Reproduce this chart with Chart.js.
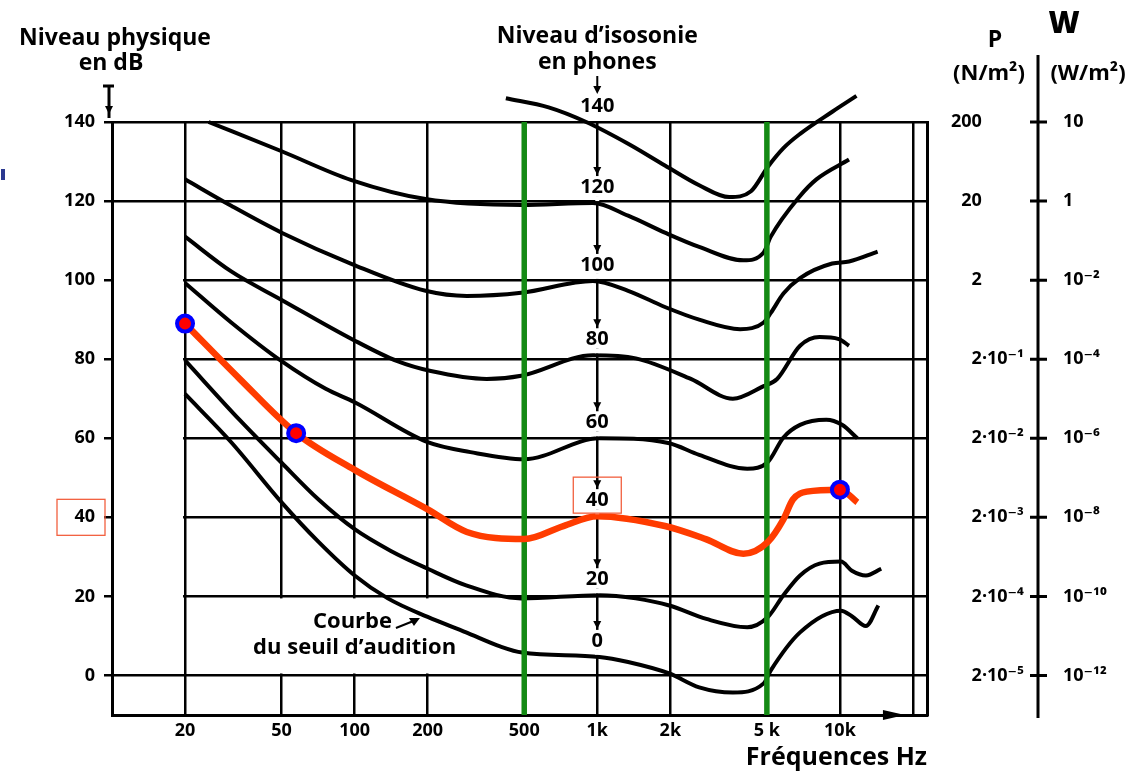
<!DOCTYPE html>
<html>
<head>
<meta charset="utf-8">
<script src="https://cdn.jsdelivr.net/npm/chart.js@4/dist/chart.umd.min.js"></script>
<style>
  html, body { margin: 0; padding: 0; background: #fff; }
</style>
</head>
<body>
<canvas id="chart" width="1138" height="773"></canvas>
<script>
// equal loudness contours, [frequency Hz, level dB]
const c140 = [[420,146],[630,143.7],[900,140],[1340,134.5],[1900,129],[2630,124],[3500,121],[4300,122.5],[5050,128.7],[5850,133.4],[6850,137],[9300,142.6],[11700,146.6]]
const c120 = [[25,140],[50,132.6],[97,125.3],[196,120.5],[486,119],[960,119.5],[1340,116.3],[1900,112],[2630,108.4],[4000,105],[4850,107],[5190,111],[6850,121.3],[8000,125.5],[10900,130.5]]
const c100 = [[20,125.5],[31,118.8],[50,112],[98,104],[196,97.3],[290,96],[486,96.8],[960,99.8],[1340,97.3],[1900,93.2],[2630,90],[3880,87.6],[4850,89.3],[5190,91.7],[5850,96.6],[6850,100.5],[9290,104.2],[10900,104.7],[14300,107.2]]
const c80 = [[20,111],[31,102.2],[50,95],[98,85],[150,79.5],[206,77],[350,75],[486,75.8],[960,81],[1440,80.2],[2430,75],[3620,70],[4850,73.2],[5510,75],[6850,83.4],[8240,85.6],[9900,85.1],[10900,83.4]]
const c60 = [[20,99.3],[31,89.3],[50,79.5],[76,72.5],[100,69.1],[200,59],[300,56.5],[500,54.7],[1020,60],[1960,58.8],[2630,55.8],[4150,52.3],[5050,54],[5850,60.2],[6850,63.4],[8790,64.7],[10200,63.4],[11800,60]]
const c40 = [[20,89],[33.5,75.1],[57.4,61.3],[100,52],[200,42],[290,36.3],[500,34.5],[725,37.8],[1000,40.3],[1900,37.8],[2800,34.5],[4000,30.8],[5050,33.8],[5850,39.5],[6400,44.5],[7300,46.5],[10000,47],[11800,43.8]]
const c20 = [[20,79.7],[33.5,64.7],[50,53.8],[71,44.5],[100,37],[141,31.5],[200,27],[288,22.8],[486,19.5],[1020,20.3],[1440,19.5],[1980,17.7],[2815,14.3],[4150,12.2],[5050,14.8],[5850,20.3],[6850,25.3],[8240,28.3],[10100,28.8],[11200,26.5],[12800,25.3],[14800,27]]
const c0 = [[20,71.2],[31,59],[50,43.8],[71,33.8],[100,25.3],[137,19.5],[200,14.8],[288,10.9],[400,7.3],[490,5.8],[1020,4.7],[1340,3.4],[1980,0.5],[2630,-3],[3620,-4.3],[4850,-2],[5190,1.3],[6850,10.9],[10100,16.4],[11200,15],[12800,12.5],[14400,17.7]]

const redMarks = [[20,89],[57.4,61.3],[10000,47]]
const greenHz = [500, 5000]

const phons = [140, 120, 100, 80, 60, 40, 20, 0]
const phonCurves = [c140, c120, c100, c80, c60, c40, c20, c0]

const freqTicks = [10, 20, 50, 100, 200, 500, 1000, 2000, 5000, 10000, 20000]
const freqLabels = ['', '20', '50', '100', '200', '500', '1k', '2k', '5 k', '10k', '']
const dbTicks = [0, 20, 40, 60, 80, 100, 120, 140]
// figure spaces keep the leading "2" of each pressure label in one column
const pLabels = ['\u2007\u20072·10⁻⁵', '\u2007\u20072·10⁻⁴', '\u2007\u20072·10⁻³', '\u2007\u20072·10⁻²', '\u2007\u20072·10⁻¹', '\u2007\u20072', '\u200720', '200']
const wLabels = ['10⁻¹²', '10⁻¹⁰', '10⁻⁸', '10⁻⁶', '10⁻⁴', '10⁻²', '1', '10']

const dbMin = -10, dbMax = 140
const hzMin = 10, hzMax = 22850
const ink = '#000'
const fam = '"Open Sans", "DejaVu Sans", sans-serif'

const toXY = c => c.map(([x, y]) => ({x, y}))
const at1k = c => c.reduce((b, p) => Math.abs(Math.log(p[0] / 1000)) < Math.abs(Math.log(b[0] / 1000)) ? p : b)[1]

function blank(ctx, x0, y0, x1, y1) {
    ctx.fillRect(x0 + 2, y0 + 2, x1 - x0 - 4, y1 - y0 - 4)
}

function arrowDown(ctx, x, y) {
    ctx.beginPath()
    ctx.moveTo(x - 4, y - 8)
    ctx.lineTo(x + 4, y - 8)
    ctx.lineTo(x, y)
    ctx.closePath()
    ctx.fill()
}

const decor = {
    id: 'decor',
    beforeDatasetsDraw(chart) {
        const {ctx, scales: {x, y}} = chart
        ctx.save()
        ctx.fillStyle = '#fff'
        // the 10-20 Hz column has no rules between 0 and 120 dB
        blank(ctx, x.getPixelForValue(10), y.getPixelForValue(120), x.getPixelForValue(20), y.getPixelForValue(0))
        // caption box under 20 dB
        blank(ctx, x.getPixelForValue(20), y.getPixelForValue(20), x.getPixelForValue(500), y.getPixelForValue(0))
        ctx.restore()
    },
    afterDatasetsDraw(chart) {
        const {ctx, scales: {x, y}} = chart
        const px = x.getPixelForValue(1000)
        ctx.save()
        ctx.textAlign = 'center'
        ctx.textBaseline = 'middle'
        ctx.font = 'bold 20px ' + fam
        phons.forEach((p, i) => {
            const ly = y.getPixelForValue(at1k(phonCurves[i])) - 17
            const w = ctx.measureText(String(p)).width
            ctx.fillStyle = '#fff'
            ctx.fillRect(px - w / 2 - 2, ly - 10, w + 4, 20)
            ctx.fillStyle = ink
            arrowDown(ctx, px, ly - 11)
            ctx.fillText(String(p), px, ly + 1)
            if (i === 0) {
                ctx.fillRect(px - 1, 76, 2, ly - 90)
            } else {
                ctx.fillStyle = '#fff'
                ctx.fillRect(px - 2, ly + 10, 4, 5)
                ctx.fillStyle = ink
            }
        })
        // threshold caption
        ctx.font = 'bold 22px ' + fam
        ctx.fillText('Courbe', x.getPixelForValue(98), y.getPixelForValue(13.6))
        ctx.fillText('du seuil d’audition', x.getPixelForValue(100), y.getPixelForValue(7))
        const ax = x.getPixelForValue(148), ay = y.getPixelForValue(12)
        ctx.lineWidth = 2
        ctx.strokeStyle = ink
        ctx.beginPath()
        ctx.moveTo(ax, ay)
        ctx.lineTo(ax + 20, ay - 8)
        ctx.stroke()
        ctx.beginPath()
        ctx.moveTo(ax + 24, ay - 10)
        ctx.lineTo(ax + 13, ay - 10)
        ctx.lineTo(ax + 18, ay - 2)
        ctx.closePath()
        ctx.fill()
        ctx.restore()
    },
    afterDraw(chart) {
        const {ctx, chartArea: a, scales: {x, y, w}} = chart
        ctx.save()
        ctx.fillStyle = ink
        ctx.strokeStyle = ink
        ctx.textAlign = 'center'
        ctx.textBaseline = 'middle'

        ctx.font = 'bold 23px ' + fam
        ctx.fillText('Niveau physique', 115, 38)
        ctx.fillText('en dB', 111, 63)
        ctx.fillText('Niveau d’isosonie', x.getPixelForValue(1000), 36)
        ctx.fillText('en phones', x.getPixelForValue(1000), 62)

        ctx.fillText('P', 995, 40)
        ctx.font = 'bold 22px ' + fam
        ctx.fillText('(N/m²)', 989, 74)
        ctx.fillText('(W/m²)', 1088, 74)
        ctx.font = '800 30px ' + fam
        ctx.fillText('W', 1064, 24)

        // dB axis marker above 140
        const lx = a.left - 3
        ctx.lineWidth = 3
        ctx.beginPath()
        ctx.moveTo(lx - 6, 86); ctx.lineTo(lx + 5, 86)
        ctx.moveTo(lx, 86); ctx.lineTo(lx, a.top - 4)
        ctx.stroke()
        arrowDown(ctx, lx, a.top - 8)

        // frequency axis arrow
        const bx = x.getPixelForValue(20000) - 8
        ctx.beginPath()
        ctx.moveTo(bx, a.bottom)
        ctx.lineTo(bx - 22, a.bottom - 5)
        ctx.lineTo(bx - 22, a.bottom + 5)
        ctx.closePath()
        ctx.fill()

        // W axis line with cross ticks
        const wx = w.left
        ctx.lineWidth = 3
        ctx.beginPath()
        ctx.moveTo(wx, 55)
        ctx.lineTo(wx, a.bottom + 3)
        dbTicks.forEach(v => {
            const ty = w.getPixelForValue(v)
            ctx.moveTo(wx - 8, ty)
            ctx.lineTo(wx + 9, ty)
        })
        ctx.stroke()

        // highlight boxes
        ctx.strokeStyle = '#f2603f'
        ctx.lineWidth = 1.3
        const y40 = y.getPixelForValue(40)
        ctx.strokeRect(57, y40 - 18, 48, 36)
        const ly40 = y.getPixelForValue(at1k(c40)) - 17
        ctx.strokeRect(x.getPixelForValue(1000) - 24, ly40 - 22, 48, 36)

        ctx.fillStyle = '#2b3990'
        ctx.fillRect(1, 169, 4, 11)
        ctx.restore()
    }
}

const blackSets = phonCurves.filter(c => c !== c40).map(c => ({
    data: toXY(c),
    borderColor: ink,
    borderWidth: 4,
    pointRadius: 0,
    cubicInterpolationMode: 'monotone',
    clip: false,
    order: 3
}))

const greenSets = greenHz.map(f => ({
    data: [{x: f, y: dbMin}, {x: f, y: dbMax}],
    borderColor: '#148a14',
    borderWidth: 5.5,
    pointRadius: 0,
    order: 2
}))

const tickFont = {family: fam, size: 18, weight: 'bold'}
const fixTicks = s => { s.ticks = dbTicks.map(v => ({value: v})) }

new Chart(document.getElementById('chart').getContext('2d'), {
    type: 'line',
    data: {
        datasets: [
            {
                data: toXY(redMarks),
                showLine: false,
                pointRadius: 8,
                pointBackgroundColor: '#ff0000',
                pointBorderColor: '#0000ff',
                pointBorderWidth: 4,
                clip: false,
                order: 0
            },
            {
                data: toXY(c40),
                borderColor: '#ff3c00',
                borderWidth: 6.5,
                pointRadius: 0,
                cubicInterpolationMode: 'monotone',
                clip: false,
                order: 1
            },
            ...greenSets,
            ...blackSets
        ]
    },
    options: {
        responsive: false,
        animation: false,
        devicePixelRatio: 1,
        layout: { padding: { top: 122, left: 0, right: 0, bottom: 0 } },
        plugins: {
            legend: { display: false },
            tooltip: { enabled: false }
        },
        scales: {
            x: {
                type: 'logarithmic',
                min: hzMin,
                max: hzMax,
                afterBuildTicks: s => { s.ticks = freqTicks.map(v => ({value: v})) },
                afterFit: s => { s.height = 58 },
                ticks: {
                    autoSkip: false, maxRotation: 0, minRotation: 0, padding: 5,
                    color: ink, font: tickFont,
                    callback: (v, i) => freqLabels[i]
                },
                grid: { color: ink, lineWidth: 2.5, drawTicks: false },
                border: { color: ink, width: 3 },
                title: {
                    display: true, text: 'Fréquences Hz', align: 'end', color: ink,
                    font: {family: fam, size: 25, weight: 'bold'},
                    padding: {top: 0, bottom: 0}
                }
            },
            y: {
                min: dbMin,
                max: dbMax,
                afterBuildTicks: fixTicks,
                afterFit: s => { s.width = 112 },
                ticks: { padding: 9, color: ink, font: tickFont },
                grid: { color: ink, lineWidth: 2.5, tickLength: 8 },
                border: { color: ink, width: 3 }
            },
            p: {
                position: 'right',
                weight: 0,
                min: dbMin,
                max: dbMax,
                afterBuildTicks: fixTicks,
                afterFit: s => { s.width = 111 },
                ticks: {
                    crossAlign: 'near', padding: 16, color: ink, font: tickFont,
                    callback: (v, i) => pLabels[i]
                },
                grid: { display: false },
                border: { display: true, color: ink, width: 3 }
            },
            w: {
                position: 'right',
                weight: 1,
                min: dbMin,
                max: dbMax,
                afterBuildTicks: fixTicks,
                afterFit: s => { s.width = 100 },
                ticks: {
                    crossAlign: 'near', padding: 17, color: ink, font: tickFont,
                    callback: (v, i) => wLabels[i]
                },
                grid: { display: false },
                border: { display: false }
            }
        }
    },
    plugins: [decor]
})
</script>
</body>
</html>
